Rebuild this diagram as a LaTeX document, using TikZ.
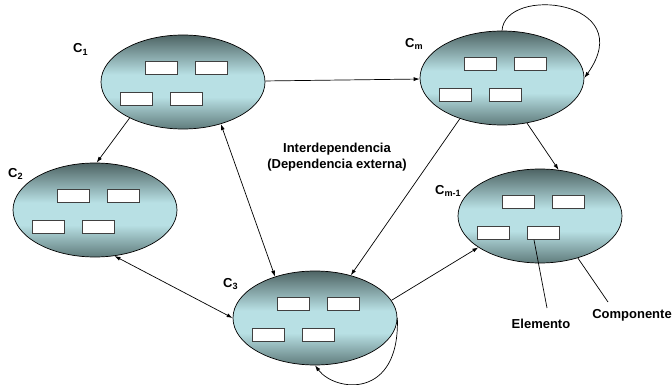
\documentclass[tikz,border=0pt]{standalone}
\usepackage{fontspec}
\setmainfont{Liberation Sans}
\usetikzlibrary{arrows.meta,calc,shapes.geometric}
\definecolor{edgecol}{RGB}{78,100,100}
\definecolor{botcol}{RGB}{96,124,124}
\definecolor{midcol}{RGB}{184,224,228}
\pgfdeclareverticalshading{compshade}{100bp}{color(0bp)=(botcol); color(25bp)=(botcol); color(42bp)=(midcol); color(54bp)=(midcol); color(75bp)=(edgecol); color(100bp)=(edgecol)}
\begin{document}
\begin{tikzpicture}[x=1pt,y=-1pt,
  comp/.style={ellipse, draw=black, line width=0.7pt, minimum width=164pt, minimum height=94pt, inner sep=0pt,
    shading=compshade},
  elem/.style={rectangle, draw=black!75, line width=0.8pt, fill=white, minimum width=32pt, minimum height=13pt, inner sep=0pt},
  lab/.style={font=\fontsize{13}{16}\selectfont\bfseries, inner sep=0pt},
  conn/.style={line width=0.7pt, -{Latex[length=6pt,width=4pt]}},
  dconn/.style={line width=0.7pt, {Latex[length=6pt,width=4pt]}-{Latex[length=6pt,width=4pt]}},
  plain/.style={line width=0.7pt}
]
\useasboundingbox (0,0) rectangle (672,385);

% components
\node[comp] (c1) at (183,82) {};
\node[comp] (cm) at (502,78) {};
\node[comp] (c2) at (95,210) {};
\node[comp] (cmm) at (540,216) {};
\node[comp] (c3) at (315,318) {};

% elements
\foreach \n in {c1,cm,c2,cmm,c3}{
  \node[elem] (\n-a) at ($(\n)+(-22,-14)$) {};
  \node[elem] (\n-b) at ($(\n)+(28,-14)$) {};
  \node[elem] (\n-c) at ($(\n)+(-47,17)$) {};
  \node[elem] (\n-d) at ($(\n)+(3,17)$) {};
}

% component labels
\node[lab, anchor=base west] (l1) at (73,53) {C\textsubscript{1}};
\node[lab, anchor=base west] (lm) at (405,48) {C\textsubscript{m}};
\node[lab, anchor=base west] (l2) at (8,177) {C\textsubscript{2}};
\node[lab, anchor=base west] (lmm) at (435,194) {C\textsubscript{m-1}};
\node[lab, anchor=base west] (l3) at (223,287) {C\textsubscript{3}};

% central text
\node[lab, align=center] (inter) at (337,157.5) {Interdependencia\\(Dependencia externa)};

% connectors
\draw[conn] (c1) -- (cm);
\draw[conn] (c1.214) -- (c2.88);
\draw[dconn] (c1.-48) -- (c3.134);
\draw[dconn] (c2.-67) -- (c3.180);
\draw[conn] (cm.224) -- (c3.50);
\draw[conn] (cm.-61) -- (cmm.68);
\draw[conn] (c3.13) -- (cmm.207);

% self loops
\draw[conn] (cm.north) .. controls (505,-15) and (640,0) .. (cm.east);
\draw[conn] (c3.east) .. controls (400,400) and (335,392) .. (c3.south);

% legend labels
\node[lab, anchor=base] (elab) at (541,328) {Elemento};
\node[lab, anchor=base] (clab) at (632,318) {Componente};
\coordinate (eend) at (547,308);
\coordinate (cend) at (608,302);
\draw[plain] ($(cmm-d.south)+(-9,0)$) -- (eend);
\draw[plain] (cmm.-48) -- (cend);
\end{tikzpicture}
\end{document}
